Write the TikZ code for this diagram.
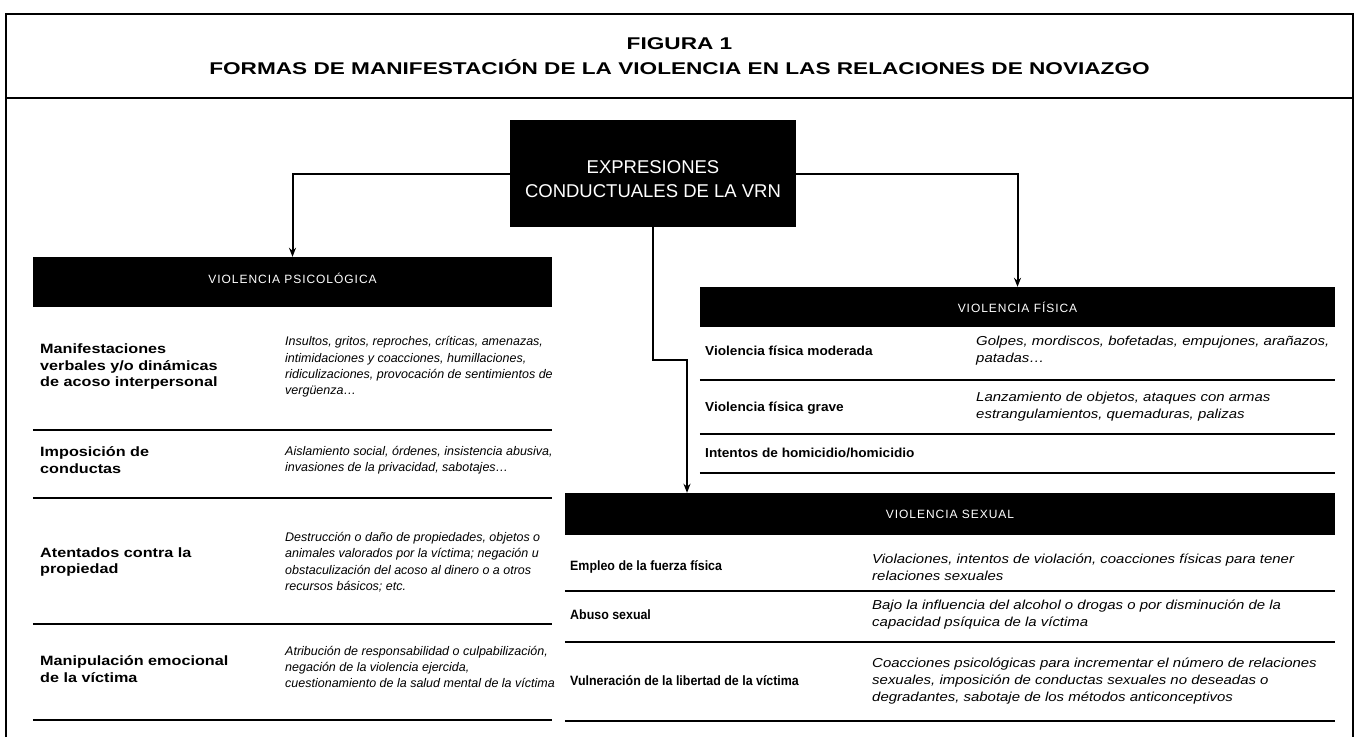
\documentclass[tikz,border=0pt]{standalone}
\usepackage{fontspec}
\setmainfont{Liberation Sans}
\usetikzlibrary{arrows.meta}
\newfontfamily\titlef[FakeStretch=1.33]{Liberation Sans}
\newfontfamily\hdrf[LetterSpace=8]{Liberation Sans}
\newfontfamily\psylabf[FakeStretch=1.2]{Liberation Sans}
\newfontfamily\psydescf{Liberation Sans}
\newfontfamily\fislabf[FakeStretch=1.05]{Liberation Sans}
\newfontfamily\rdescf[FakeStretch=1.15]{Liberation Sans}
\newfontfamily\sexlabf[FakeStretch=0.92]{Liberation Sans}
\tikzset{
  frame/.style={line width=1.6pt},
  rulel/.style={line width=2.4pt},
  conn/.style={line width=2pt,-{Stealth[length=9pt,width=7pt]}},
  hdr/.style={fill=black,draw=none,text=white,inner sep=0pt},
  txt/.style={anchor=west,align=left,inner sep=0pt},
  psylab/.style={txt,font=\psylabf\bfseries\fontsize{13.5}{16.5}\selectfont},
  psydesc/.style={txt,font=\psydescf\itshape\fontsize{12.5}{16.4}\selectfont},
  fislab/.style={txt,font=\fislabf\bfseries\fontsize{13}{16}\selectfont},
  rdesc/.style={txt,font=\rdescf\itshape\fontsize{13}{17}\selectfont},
  sexlab/.style={txt,font=\sexlabf\bfseries\fontsize{13.5}{16}\selectfont},
}
\begin{document}
\begin{tikzpicture}[x=1pt,y=-1pt]
\useasboundingbox[fill=white] (0,0) rectangle (1359,737);
% frame
\draw[frame] (6,737) -- (6,14) -- (1353,14) -- (1353,737);
\draw[frame] (6,98) -- (1353,98);
% title
\node[font=\titlef\bfseries\fontsize{17}{20}\selectfont] (t1) at (679.5,44) {FIGURA 1};
\node[font=\titlef\bfseries\fontsize{17}{20}\selectfont] (t2) at (679.5,67) {FORMAS DE MANIFESTACIÓN DE LA VIOLENCIA EN LAS RELACIONES DE NOVIAZGO};
% central box
\node[hdr,minimum width=286pt,minimum height=107pt] (exp) at (653,173.5) {};
\node[text=white,align=center,inner sep=0pt,font=\fontsize{18.5}{24}\selectfont] (expt) at (653,179) {EXPRESIONES\\CONDUCTUALES DE LA VRN};
% headers
\node[hdr,minimum width=519pt,minimum height=50pt,font=\hdrf\fontsize{12}{14}\selectfont] (psy) at (292.5,282) {\raisebox{7pt}{VIOLENCIA PSICOLÓGICA}};
\node[hdr,minimum width=635pt,minimum height=40pt,font=\hdrf\fontsize{12}{14}\selectfont] (fis) at (1017.5,307) {VIOLENCIA FÍSICA};
\node[hdr,minimum width=770pt,minimum height=42pt,font=\hdrf\fontsize{12}{14}\selectfont] (sex) at (950,514) {VIOLENCIA SEXUAL};
% connectors
\coordinate (jog) at (687,360);
\draw[conn] (exp.west) -| (psy.north);
\draw[conn] (exp.east) -| (fis.north);
\draw[conn] (exp.south) |- (jog) -- (jog |- sex.north);
% psychological table
\node[psylab] (p1l) at (40,367) {Manifestaciones\\verbales y/o dinámicas\\de acoso interpersonal};
\node[psydesc] (p1d) at (285,367) {Insultos, gritos, reproches, críticas, amenazas,\\intimidaciones y coacciones, humillaciones,\\ridiculizaciones, provocación de sentimientos de\\vergüenza…};
\draw[rulel] (psy.west |- 0,430) -- (psy.east |- 0,430);
\node[psylab] (p2l) at (40,460) {Imposición de\\conductas};
\node[psydesc] (p2d) at (285,460) {Aislamiento social, órdenes, insistencia abusiva,\\invasiones de la privacidad, sabotajes…};
\draw[rulel] (psy.west |- 0,498) -- (psy.east |- 0,498);
\node[psylab] (p3l) at (40,562) {Atentados contra la\\propiedad};
\node[psydesc] (p3d) at (285,562) {Destrucción o daño de propiedades, objetos o\\animales valorados por la víctima; negación u\\obstaculización del acoso al dinero o a otros\\recursos básicos; etc.};
\draw[rulel] (psy.west |- 0,624) -- (psy.east |- 0,624);
\node[psylab] (p4l) at (40,669) {Manipulación emocional\\de la víctima};
\node[psydesc] (p4d) at (285,667) {Atribución de responsabilidad o culpabilización,\\negación de la violencia ejercida,\\cuestionamiento de la salud mental de la víctima};
\draw[rulel] (psy.west |- 0,720) -- (psy.east |- 0,720);
% physical table
\node[fislab] (f1l) at (705,351) {Violencia física moderada};
\node[rdesc] (f1d) at (976,351) {Golpes, mordiscos, bofetadas, empujones, arañazos,\\patadas…};
\draw[rulel] (fis.west |- 0,380) -- (fis.east |- 0,380);
\node[fislab] (f2l) at (705,408) {Violencia física grave};
\node[rdesc] (f2d) at (976,407) {Lanzamiento de objetos, ataques con armas\\estrangulamientos, quemaduras, palizas};
\draw[rulel] (fis.west |- 0,434) -- (fis.east |- 0,434);
\node[fislab] (f3l) at (705,453) {Intentos de homicidio/homicidio};
\draw[rulel] (fis.west |- 0,473) -- (fis.east |- 0,473);
% sexual table
\node[sexlab] (s1l) at (570,567) {Empleo de la fuerza física};
\node[rdesc] (s1d) at (872,567) {Violaciones, intentos de violación, coacciones físicas para tener\\relaciones sexuales};
\draw[rulel] (sex.west |- 0,591) -- (sex.east |- 0,591);
\node[sexlab] (s2l) at (570,615) {Abuso sexual};
\node[rdesc] (s2d) at (872,615) {Bajo la influencia del alcohol o drogas o por disminución de la\\capacidad psíquica de la víctima};
\draw[rulel] (sex.west |- 0,642) -- (sex.east |- 0,642);
\node[sexlab] (s3l) at (570,681) {Vulneración de la libertad de la víctima};
\node[rdesc] (s3d) at (872,681) {Coacciones psicológicas para incrementar el número de relaciones\\sexuales, imposición de conductas sexuales no deseadas o\\degradantes, sabotaje de los métodos anticonceptivos};
\draw[rulel] (sex.west |- 0,721) -- (sex.east |- 0,721);
\end{tikzpicture}
\end{document}
